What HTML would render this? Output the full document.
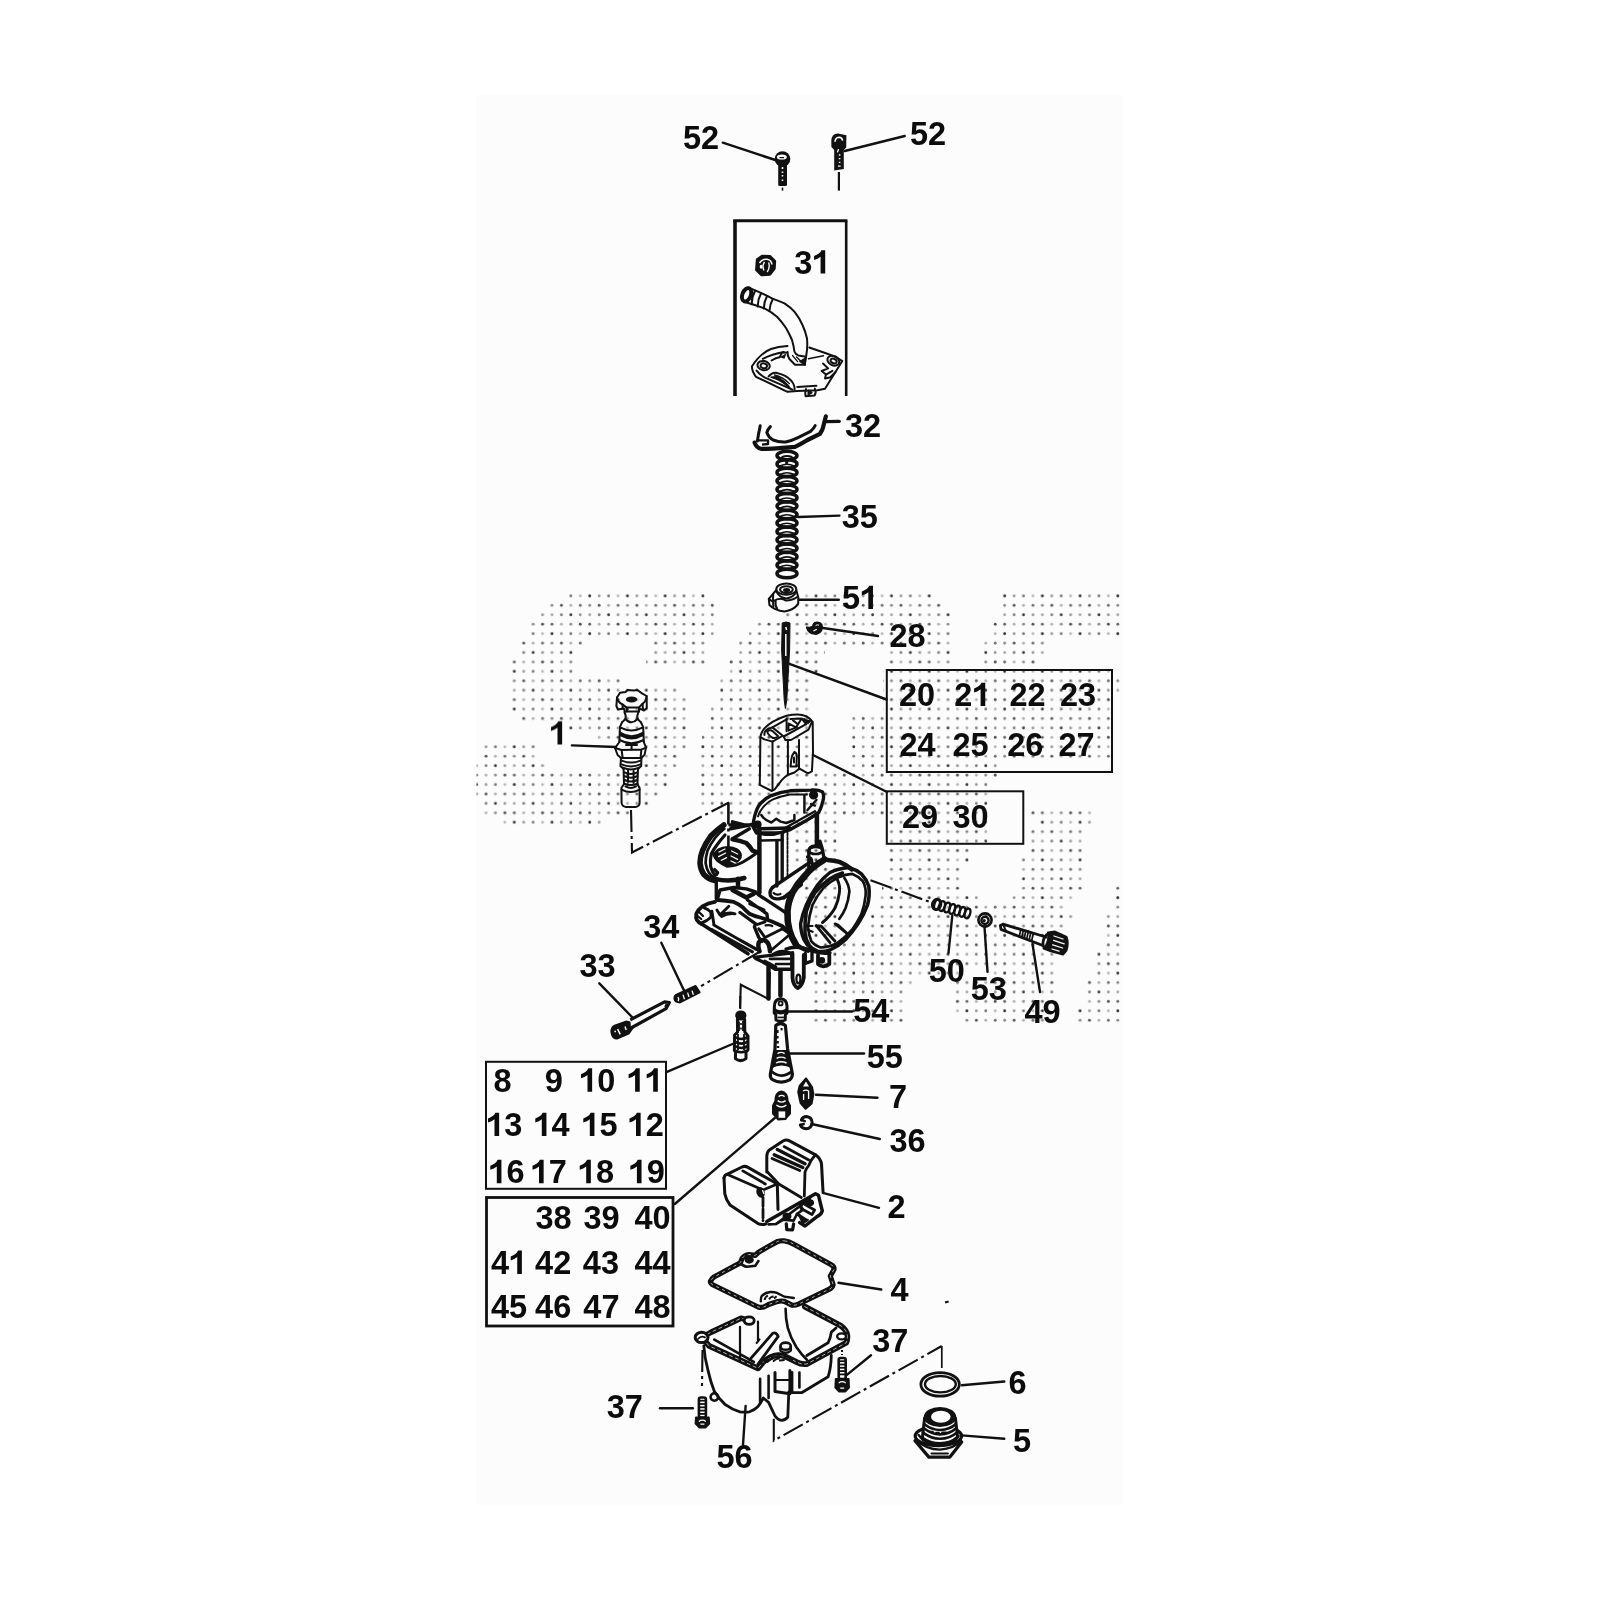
<!DOCTYPE html>
<html><head><meta charset="utf-8"><title>Carburetor exploded view</title>
<style>
html,body{margin:0;padding:0;background:#fff;}
body{width:1600px;height:1600px;overflow:hidden;font-family:"Liberation Sans",sans-serif;}
svg{display:block;position:absolute;left:0;top:0;}
text{font-family:"Liberation Sans",sans-serif;font-weight:bold;font-size:32.5px;fill:#0c0c0c;}
.s{fill:none;stroke:#111;stroke-width:2;stroke-linecap:round;stroke-linejoin:round;}
.t{fill:none;stroke:#111;stroke-width:1.4;stroke-linecap:round;stroke-linejoin:round;}
.h{fill:none;stroke:#111;stroke-width:2.8;stroke-linecap:round;stroke-linejoin:round;}
.w{fill:#fcfcfc;stroke:#111;stroke-width:2;stroke-linecap:round;stroke-linejoin:round;}
.wt{fill:#fcfcfc;stroke:#111;stroke-width:1.4;stroke-linecap:round;stroke-linejoin:round;}
.k{fill:#111;stroke:none;}
.l{fill:none;stroke:#111;stroke-width:2.4;stroke-linecap:round;}
.d{fill:none;stroke:#111;stroke-width:2.1;stroke-dasharray:22 4 3 4;}
</style></head><body>
<svg width="1600" height="1600" viewBox="0 0 1600 1600">
<rect x="476.5" y="95" width="646.5" height="1409.5" fill="#fcfcfc"/>
<!-- 00_dots.svg -->
<defs>
<pattern id="dp" x="698.18" y="591.24" width="37.72" height="37.72" patternUnits="userSpaceOnUse">
<circle cx="4.71" cy="4.71" r="1.45" fill="#303030"/>
<circle cx="14.14" cy="4.71" r="1.45" fill="#9a9a9a"/>
<circle cx="23.57" cy="4.71" r="1.45" fill="#787878"/>
<circle cx="33.00" cy="4.71" r="1.45" fill="#b8b8b8"/>
<circle cx="4.71" cy="14.14" r="1.45" fill="#8c8c8c"/>
<circle cx="14.14" cy="14.14" r="1.45" fill="#585858"/>
<circle cx="23.57" cy="14.14" r="1.45" fill="#b0b0b0"/>
<circle cx="33.00" cy="14.14" r="1.45" fill="#707070"/>
<circle cx="4.71" cy="23.57" r="1.45" fill="#a8a8a8"/>
<circle cx="14.14" cy="23.57" r="1.45" fill="#808080"/>
<circle cx="23.57" cy="23.57" r="1.45" fill="#383838"/>
<circle cx="33.00" cy="23.57" r="1.45" fill="#989898"/>
<circle cx="4.71" cy="33.00" r="1.45" fill="#686868"/>
<circle cx="14.14" cy="33.00" r="1.45" fill="#b4b4b4"/>
<circle cx="23.57" cy="33.00" r="1.45" fill="#909090"/>
<circle cx="33.00" cy="33.00" r="1.45" fill="#505050"/>
</pattern>
<clipPath id="dc">
<rect x="566.0" y="591.2" width="140.0" height="9.43"/>
<rect x="798.0" y="591.2" width="135.0" height="9.43"/>
<rect x="1002.0" y="591.2" width="120.0" height="9.43"/>
<rect x="547.0" y="600.7" width="169.0" height="9.43"/>
<rect x="792.0" y="600.7" width="150.0" height="9.43"/>
<rect x="1002.0" y="600.7" width="120.0" height="9.43"/>
<rect x="538.0" y="610.1" width="178.0" height="9.43"/>
<rect x="783.0" y="610.1" width="169.0" height="9.43"/>
<rect x="1002.0" y="610.1" width="120.0" height="9.43"/>
<rect x="529.0" y="619.5" width="187.0" height="9.43"/>
<rect x="757.0" y="619.5" width="195.0" height="9.43"/>
<rect x="992.0" y="619.5" width="130.0" height="9.43"/>
<rect x="529.0" y="629.0" width="187.0" height="9.43"/>
<rect x="749.0" y="629.0" width="203.0" height="9.43"/>
<rect x="992.0" y="629.0" width="130.0" height="9.43"/>
<rect x="519.0" y="638.4" width="66.0" height="9.43"/>
<rect x="652.0" y="638.4" width="55.0" height="9.43"/>
<rect x="739.0" y="638.4" width="213.0" height="9.43"/>
<rect x="983.0" y="638.4" width="64.0" height="9.43"/>
<rect x="519.0" y="647.8" width="58.0" height="9.43"/>
<rect x="652.0" y="647.8" width="55.0" height="9.43"/>
<rect x="739.0" y="647.8" width="86.0" height="9.43"/>
<rect x="888.0" y="647.8" width="64.0" height="9.43"/>
<rect x="983.0" y="647.8" width="64.0" height="9.43"/>
<rect x="510.0" y="657.2" width="65.0" height="9.43"/>
<rect x="646.0" y="657.2" width="61.0" height="9.43"/>
<rect x="729.0" y="657.2" width="89.0" height="9.43"/>
<rect x="888.0" y="657.2" width="64.0" height="9.43"/>
<rect x="983.0" y="657.2" width="55.0" height="9.43"/>
<rect x="510.0" y="666.7" width="65.0" height="9.43"/>
<rect x="729.0" y="666.7" width="89.0" height="9.43"/>
<rect x="883.0" y="666.7" width="232.0" height="9.43"/>
<rect x="510.0" y="676.1" width="111.0" height="9.43"/>
<rect x="720.0" y="676.1" width="89.0" height="9.43"/>
<rect x="883.0" y="676.1" width="241.0" height="9.43"/>
<rect x="510.0" y="685.5" width="169.0" height="9.43"/>
<rect x="720.0" y="685.5" width="89.0" height="9.43"/>
<rect x="883.0" y="685.5" width="241.0" height="9.43"/>
<rect x="510.0" y="695.0" width="179.0" height="9.43"/>
<rect x="715.0" y="695.0" width="94.0" height="9.43"/>
<rect x="883.0" y="695.0" width="232.0" height="9.43"/>
<rect x="510.0" y="704.4" width="179.0" height="9.43"/>
<rect x="711.0" y="704.4" width="98.0" height="9.43"/>
<rect x="883.0" y="704.4" width="232.0" height="9.43"/>
<rect x="519.0" y="713.8" width="170.0" height="9.43"/>
<rect x="708.0" y="713.8" width="101.0" height="9.43"/>
<rect x="850.0" y="713.8" width="265.0" height="9.43"/>
<rect x="566.0" y="723.3" width="123.0" height="9.43"/>
<rect x="705.0" y="723.3" width="104.0" height="9.43"/>
<rect x="850.0" y="723.3" width="265.0" height="9.43"/>
<rect x="595.0" y="732.7" width="94.0" height="9.43"/>
<rect x="702.0" y="732.7" width="107.0" height="9.43"/>
<rect x="850.0" y="732.7" width="265.0" height="9.43"/>
<rect x="481.0" y="742.1" width="56.0" height="9.43"/>
<rect x="642.0" y="742.1" width="47.0" height="9.43"/>
<rect x="700.0" y="742.1" width="109.0" height="9.43"/>
<rect x="850.0" y="742.1" width="265.0" height="9.43"/>
<rect x="481.0" y="751.5" width="56.0" height="9.43"/>
<rect x="642.0" y="751.5" width="37.0" height="9.43"/>
<rect x="699.0" y="751.5" width="110.0" height="9.43"/>
<rect x="850.0" y="751.5" width="265.0" height="9.43"/>
<rect x="473.0" y="761.0" width="72.0" height="9.43"/>
<rect x="642.0" y="761.0" width="37.0" height="9.43"/>
<rect x="699.0" y="761.0" width="110.0" height="9.43"/>
<rect x="850.0" y="761.0" width="149.0" height="9.43"/>
<rect x="473.0" y="770.4" width="196.0" height="9.43"/>
<rect x="699.0" y="770.4" width="300.0" height="9.43"/>
<rect x="473.0" y="779.8" width="196.0" height="9.43"/>
<rect x="699.0" y="779.8" width="290.0" height="9.43"/>
<rect x="473.0" y="789.3" width="185.0" height="9.43"/>
<rect x="699.0" y="789.3" width="290.0" height="9.43"/>
<rect x="481.0" y="798.7" width="169.0" height="9.43"/>
<rect x="699.0" y="798.7" width="290.0" height="9.43"/>
<rect x="481.0" y="808.1" width="151.0" height="9.43"/>
<rect x="718.0" y="808.1" width="271.0" height="9.43"/>
<rect x="1029.0" y="808.1" width="65.0" height="9.43"/>
<rect x="501.0" y="817.6" width="102.0" height="9.43"/>
<rect x="790.0" y="817.6" width="51.0" height="9.43"/>
<rect x="885.0" y="817.6" width="104.0" height="9.43"/>
<rect x="1037.0" y="817.6" width="56.0" height="9.43"/>
<rect x="790.0" y="827.0" width="51.0" height="9.43"/>
<rect x="885.0" y="827.0" width="104.0" height="9.43"/>
<rect x="1029.0" y="827.0" width="55.0" height="9.43"/>
<rect x="790.0" y="836.4" width="51.0" height="9.43"/>
<rect x="885.0" y="836.4" width="104.0" height="9.43"/>
<rect x="1029.0" y="836.4" width="55.0" height="9.43"/>
<rect x="790.0" y="845.8" width="51.0" height="9.43"/>
<rect x="885.0" y="845.8" width="84.0" height="9.43"/>
<rect x="1029.0" y="845.8" width="55.0" height="9.43"/>
<rect x="793.0" y="855.3" width="48.0" height="9.43"/>
<rect x="885.0" y="855.3" width="84.0" height="9.43"/>
<rect x="1021.0" y="855.3" width="63.0" height="9.43"/>
<rect x="797.0" y="864.7" width="44.0" height="9.43"/>
<rect x="885.0" y="864.7" width="76.0" height="9.43"/>
<rect x="1021.0" y="864.7" width="63.0" height="9.43"/>
<rect x="801.0" y="874.1" width="42.0" height="9.43"/>
<rect x="885.0" y="874.1" width="76.0" height="9.43"/>
<rect x="1021.0" y="874.1" width="63.0" height="9.43"/>
<rect x="803.0" y="883.6" width="40.0" height="9.43"/>
<rect x="882.0" y="883.6" width="79.0" height="9.43"/>
<rect x="1021.0" y="883.6" width="63.0" height="9.43"/>
<rect x="1112.0" y="883.6" width="12.0" height="9.43"/>
<rect x="803.0" y="893.0" width="40.0" height="9.43"/>
<rect x="879.0" y="893.0" width="102.0" height="9.43"/>
<rect x="1012.0" y="893.0" width="63.0" height="9.43"/>
<rect x="1112.0" y="893.0" width="12.0" height="9.43"/>
<rect x="803.0" y="902.4" width="38.0" height="9.43"/>
<rect x="877.0" y="902.4" width="190.0" height="9.43"/>
<rect x="1112.0" y="902.4" width="12.0" height="9.43"/>
<rect x="803.0" y="911.9" width="36.0" height="9.43"/>
<rect x="869.0" y="911.9" width="206.0" height="9.43"/>
<rect x="1105.0" y="911.9" width="19.0" height="9.43"/>
<rect x="803.0" y="921.3" width="36.0" height="9.43"/>
<rect x="867.0" y="921.3" width="200.0" height="9.43"/>
<rect x="1105.0" y="921.3" width="19.0" height="9.43"/>
<rect x="805.0" y="930.7" width="36.0" height="9.43"/>
<rect x="865.0" y="930.7" width="202.0" height="9.43"/>
<rect x="1105.0" y="930.7" width="19.0" height="9.43"/>
<rect x="809.0" y="940.1" width="29.0" height="9.43"/>
<rect x="839.0" y="940.1" width="228.0" height="9.43"/>
<rect x="1105.0" y="940.1" width="19.0" height="9.43"/>
<rect x="833.0" y="949.6" width="225.0" height="9.43"/>
<rect x="1096.0" y="949.6" width="28.0" height="9.43"/>
<rect x="823.0" y="959.0" width="235.0" height="9.43"/>
<rect x="1096.0" y="959.0" width="28.0" height="9.43"/>
<rect x="811.0" y="968.4" width="150.0" height="9.43"/>
<rect x="992.0" y="968.4" width="63.0" height="9.43"/>
<rect x="1096.0" y="968.4" width="28.0" height="9.43"/>
<rect x="811.0" y="977.9" width="101.0" height="9.43"/>
<rect x="955.0" y="977.9" width="100.0" height="9.43"/>
<rect x="1086.0" y="977.9" width="38.0" height="9.43"/>
<rect x="811.0" y="987.3" width="96.0" height="9.43"/>
<rect x="955.0" y="987.3" width="100.0" height="9.43"/>
<rect x="1086.0" y="987.3" width="38.0" height="9.43"/>
<rect x="811.0" y="996.7" width="96.0" height="9.43"/>
<rect x="955.0" y="996.7" width="100.0" height="9.43"/>
<rect x="1086.0" y="996.7" width="38.0" height="9.43"/>
<rect x="811.0" y="1006.2" width="96.0" height="9.43"/>
<rect x="955.0" y="1006.2" width="92.0" height="9.43"/>
<rect x="1076.0" y="1006.2" width="48.0" height="9.43"/>
<rect x="811.0" y="1015.6" width="96.0" height="9.43"/>
<rect x="963.0" y="1015.6" width="84.0" height="9.43"/>
<rect x="1076.0" y="1015.6" width="48.0" height="9.43"/>
</clipPath></defs>
<rect x="476.5" y="585" width="646.5" height="445" fill="url(#dp)" clip-path="url(#dc)"/>
<!-- 01_boxes.svg -->
<g id="boxes">
<path d="M735,396 V220.7" fill="none" stroke="#111" stroke-width="3.6"/><path d="M733.2,220.7 H847.4" fill="none" stroke="#111" stroke-width="3"/><path d="M846.2,220.7 V396" fill="none" stroke="#111" stroke-width="2.6"/>
<rect x="886.8" y="670" width="225.2" height="102" fill="none" stroke="#111" stroke-width="2"/>
<rect x="886.8" y="791.3" width="136.5" height="52.5" fill="none" stroke="#111" stroke-width="2"/>
<rect x="486" y="1061.8" width="180" height="127" fill="none" stroke="#111" stroke-width="2"/>
<rect x="486.5" y="1197.5" width="186.5" height="128.5" fill="none" stroke="#111" stroke-width="2.8"/>
</g>

<!-- 02_leaders.svg -->
<g id="leaders" class="l">
<path d="M722.8,142.7 L775.3,160"/>
<path d="M904.7,136 L844.7,151"/>
<path d="M826,421.3 L838.8,421"/>
<path d="M798,517 L839.4,515.6"/>
<path d="M798.8,599.8 L838.8,599.8"/>
<path d="M823,628 L878,636"/>
<path d="M789.4,663.8 L886.5,699.5"/>
<path d="M813,755 L887,792"/>
<path d="M571.9,745.4 L616,747"/>
<path d="M952.3,915.5 L948.5,953"/>
<path d="M984.5,926.8 L987.5,971.8"/>
<path d="M1032.5,944 L1040,992"/>
<path d="M661.3,942.8 L684.5,991.5"/>
<path d="M599.3,983.3 L632.8,1017.8"/>
<path d="M787.5,1011.5 L852,1011.5"/>
<path d="M787.5,1053.5 L864,1053.5"/>
<path d="M816,1094.8 L877.5,1097.8"/>
<path d="M811.5,1124 L879.8,1139"/>
<path d="M822.8,1192.8 L879,1207.8"/>
<path d="M838.5,1282.8 L881.3,1289.5"/>
<path d="M871,1355.3 L846.9,1374.9"/>
<path d="M660,1408.2 L692.8,1408.2"/>
<path d="M961.7,1385.2 L1004.3,1381.5"/>
<path d="M961.7,1435.4 L1004.3,1438.8"/>
<path d="M745.6,1406 L743,1445"/>
<path d="M732.5,1044 L667,1071.8"/>
<path d="M774.8,1118 L674.8,1204"/>
</g>

<!-- 10_screws52.svg -->
<g id="screws52">
<!-- left screw -->
<circle cx="782.5" cy="159" r="7.8" class="k"/>
<ellipse cx="781.8" cy="157" rx="5" ry="2.6" fill="#fcfcfc"/>
<path d="M779.5,157.6 h4.6" stroke="#111" stroke-width="1.2"/>
<rect x="778.2" y="163" width="8.8" height="23" rx="1.5" class="k"/>
<path d="M782.5,167 v2 M782.5,171.5 v1.6 M782.5,175 v1.6 M782.5,179.5 v1.6" stroke="#fcfcfc" stroke-width="1.6" fill="none"/>
<path d="M782.5,187.6 v3" stroke="#111" stroke-width="1.6"/>
<!-- right screw -->
<path d="M831.3,141 Q831.3,133.6 838,133.4 L846.4,135.2 L846.2,147.6 L843.8,150 L843.8,169 L834.2,170.4 L834.2,150 L831.4,147 Z" class="k"/>
<path d="M835,141.8 Q835.4,137.4 839,137.2 Q842.4,137.4 842.6,140.6" fill="none" stroke="#fcfcfc" stroke-width="1.6"/>
<path d="M838.6,149 l-1.2,3.4 M838.8,155 h1.6 M838.8,158.6 h1.6 M838.8,162.4 h1.6 M838,166.2 h2.6" stroke="#fcfcfc" stroke-width="1.3" fill="none"/>
<path d="M838.9,172 V190.6" stroke="#111" stroke-width="2.2"/>
</g>

<!-- 11_tube31.svg -->
<g id="tube31">
<!-- nut -->
<path d="M757,259.5 L762,256 L770,256.2 L775,261 L774.6,268.5 L770,274.5 L761.5,275.2 L756.2,270 Z" fill="#111" stroke="#111" stroke-width="2.30" stroke-linejoin="round"/>
<path d="M759.5,263 Q762,258.8 767,259.2 Q771.5,260 772,264.5" fill="none" stroke="#fcfcfc" stroke-width="1.49"/>
<path d="M764.5,262 Q761.8,266 764,270.5 M768.5,262.5 Q770.5,267 767.2,272" fill="none" stroke="#fcfcfc" stroke-width="1.38"/>
<ellipse cx="761.2" cy="266.8" rx="1.5" ry="2" fill="#fcfcfc"/>
<!-- tube -->
<path d="M748.5,287.6 Q761,292.5 772.5,298.6 Q779,301 784.5,303.3 Q791,307.5 795,312.3 Q799.5,318 802.5,325 Q805.5,331.5 807,338.5 Q807.8,347 806.3,355 L804.8,364.6" class="s" stroke-width="2.76"/>
<path d="M744,301.8 Q755,305 765,308.6 Q771.5,312 777,316.8 Q782,322 786,328 Q789.5,334 792,340 Q793.8,346 794.4,351.5 Q795.5,354.5 798.5,355.4 L804.5,356.6" class="s" stroke-width="2.76"/>
<ellipse cx="746.6" cy="294.8" rx="4.2" ry="7" transform="rotate(22 746.6 294.8)" fill="#fcfcfc" stroke="#111" stroke-width="3.91"/>
<path d="M755.2,290.8 Q751.6,297 751.8,304.2 M761,293.4 Q757.6,299.5 757.8,306.4 M767,296.2 Q763.8,302 763.8,308.4 M772.8,299 Q769.8,304.5 769.4,311" class="s" stroke-width="2.64"/>
<!-- socket -->
<path d="M787.6,352 Q787.4,356 789.2,358.8 L795,364.8 L804.8,364.8" class="s" stroke-width="2.76"/>
<path d="M792.6,355.6 L797.6,361.6 M796.6,357 L800.6,361" class="t" stroke-width="1.61"/>
<path d="M799.5,361 L804.8,364.6 L805.8,357" fill="#111" stroke="#111" stroke-width="1.72"/>
<!-- plate -->
<path d="M787.5,346 Q778,346.6 771,349 Q760.5,353 752,366.3 Q751.6,371 756,376.8 L787.5,391.8 L797.3,391 L817.5,390.3 L825,388.8 L842.3,361 Q836,356.4 828.8,354.3 L809.3,347.5" class="s" stroke-width="2.64"/>
<path d="M756.6,370.6 Q760,375 765,377.6 L792.4,389.6" class="s" stroke-width="2.30"/>
<path d="M762.8,358.8 Q772,354 783.8,352" class="s" stroke-width="2.30"/>
<path d="M771.5,360.5 Q776,357.5 779.6,357.2 L782,352.8 L786.6,352.4" class="s" stroke-width="2.30"/>
<path d="M779.6,357.2 L784.5,358.8 L786.5,353.2 Z" class="k"/>
<ellipse cx="763.6" cy="365.6" rx="6.2" ry="4.6" transform="rotate(12 763.6 365.6)" class="s" stroke-width="2.30"/>
<ellipse cx="763.8" cy="365.8" rx="3.2" ry="2.4" transform="rotate(12 763.8 365.8)" class="s" stroke-width="2.30"/>
<ellipse cx="833.3" cy="360.7" rx="6.2" ry="4.6" transform="rotate(25 833.3 360.7)" class="s" stroke-width="2.30"/>
<ellipse cx="833.6" cy="361" rx="3.2" ry="2.2" transform="rotate(25 833.6 361)" class="s" stroke-width="2.30"/>
<path d="M808.5,358.8 L823.5,355.8" class="t" stroke-width="1.61"/>
<!-- wedge detail -->
<path d="M768.6,376.4 Q772,372.4 776,372.8 Q786.5,375 791.5,381 Q795,385.6 794.6,389.4" class="s" stroke-width="2.30"/>
<path d="M770.6,377.2 Q780,380 786,385 L790.6,389 Q786,381 776.8,376.6 Z" fill="#111" stroke="#111" stroke-width="1.38"/>
<path d="M774.6,375 Q784,377.6 789.4,383.6" class="t" stroke-width="1.61"/>
<!-- zigzag right -->
<path d="M823,363.6 L828.2,368.4 L821.6,371 L826,374.6 L832.4,370.8 M826,374.6 L825,378.6 L829.8,377.6 L835.6,372" class="s" stroke-width="2.30"/>
<!-- bottom boss -->
<path d="M797.3,387 L816.4,385.8" class="s" stroke-width="2.30"/>
<path d="M806,389 Q804.6,393.5 805.6,396.2 L814.6,395.6 Q816.6,392 814.8,388.6" class="s" stroke-width="2.76"/>
<path d="M808.6,390.6 L808.4,394.4 L811.6,392.6 Z" class="s" stroke-width="1.49"/>
</g>

<!-- 12_spring.svg -->
<g id="spring35">
<path d="M754.6,442.6 Q756.5,448 761,448.8 Q770,449.2 779.4,448.2 L795,446.8 Q801,444 807.5,440 L820,433.8 Q822.6,430 823.2,426.8 L825.8,416.4" fill="none" stroke="#111" stroke-width="4.2" stroke-linecap="round" stroke-linejoin="round"/>
<path d="M757.4,441 Q758.6,433 760.2,425.8" fill="none" stroke="#111" stroke-width="3" stroke-linecap="round"/>
<path d="M770.4,426.6 Q767.4,429.6 766.8,432.6 Q768.6,437.6 773,440 Q779,442.4 785.6,442 Q792,440.6 798,437.6 L810.6,431.4 Q813.6,428.6 815.2,425.6" fill="none" stroke="#111" stroke-width="3" stroke-linecap="round" stroke-linejoin="round"/>
<path d="M759,440.4 H768 V444 L762,444.6" fill="none" stroke="#111" stroke-width="2.4" stroke-linejoin="round"/>
<path d="M825.6,421.8 L839.4,421.4" stroke="#111" stroke-width="3" stroke-linecap="round"/>
<ellipse cx="787.0" cy="455.60" rx="10.0" ry="4.3" fill="none" stroke="#111" stroke-width="3.5"/>
<ellipse cx="787.0" cy="464.02" rx="10.0" ry="4.3" fill="none" stroke="#111" stroke-width="3.5"/>
<ellipse cx="787.0" cy="472.44" rx="10.0" ry="4.3" fill="none" stroke="#111" stroke-width="3.5"/>
<ellipse cx="787.0" cy="480.86" rx="10.0" ry="4.3" fill="none" stroke="#111" stroke-width="3.5"/>
<ellipse cx="787.0" cy="489.28" rx="10.0" ry="4.3" fill="none" stroke="#111" stroke-width="3.5"/>
<ellipse cx="787.0" cy="497.70" rx="10.0" ry="4.3" fill="none" stroke="#111" stroke-width="3.5"/>
<ellipse cx="787.0" cy="506.12" rx="10.0" ry="4.3" fill="none" stroke="#111" stroke-width="3.5"/>
<ellipse cx="787.0" cy="514.54" rx="10.0" ry="4.3" fill="none" stroke="#111" stroke-width="3.5"/>
<ellipse cx="787.0" cy="522.96" rx="10.0" ry="4.3" fill="none" stroke="#111" stroke-width="3.5"/>
<ellipse cx="787.0" cy="531.38" rx="10.0" ry="4.3" fill="none" stroke="#111" stroke-width="3.5"/>
<ellipse cx="787.0" cy="539.80" rx="10.0" ry="4.3" fill="none" stroke="#111" stroke-width="3.5"/>
<ellipse cx="787.0" cy="548.22" rx="10.0" ry="4.3" fill="none" stroke="#111" stroke-width="3.5"/>
<ellipse cx="787.0" cy="556.64" rx="10.0" ry="4.3" fill="none" stroke="#111" stroke-width="3.5"/>
<ellipse cx="787.0" cy="565.06" rx="10.0" ry="4.3" fill="none" stroke="#111" stroke-width="3.5"/>
<ellipse cx="787.0" cy="573.48" rx="10.0" ry="4.3" fill="none" stroke="#111" stroke-width="3.5"/>
<ellipse cx="787.0" cy="457.8" rx="5" ry="1.8" fill="none" stroke="#111" stroke-width="2"/>
<circle cx="786.6" cy="462.6" r="1.6" fill="#111"/>
<path d="M780,466.0 q7,-3.4 14,0" fill="none" stroke="#111" stroke-width="1.6"/>
<path d="M780,474.4 q7,-3.4 14,0" fill="none" stroke="#111" stroke-width="1.6"/>
<path d="M780,482.8 q7,-3.4 14,0" fill="none" stroke="#111" stroke-width="1.6"/>
<path d="M780,491.3 q7,-3.4 14,0" fill="none" stroke="#111" stroke-width="1.6"/>
<path d="M780,499.7 q7,-3.4 14,0" fill="none" stroke="#111" stroke-width="1.6"/>
<path d="M780,508.1 q7,-3.4 14,0" fill="none" stroke="#111" stroke-width="1.6"/>
<path d="M780,516.5 q7,-3.4 14,0" fill="none" stroke="#111" stroke-width="1.6"/>
<path d="M780,524.9 q7,-3.4 14,0" fill="none" stroke="#111" stroke-width="1.6"/>
<path d="M780,533.4 q7,-3.4 14,0" fill="none" stroke="#111" stroke-width="1.6"/>
<path d="M780,541.8 q7,-3.4 14,0" fill="none" stroke="#111" stroke-width="1.6"/>
<path d="M780,550.2 q7,-3.4 14,0" fill="none" stroke="#111" stroke-width="1.6"/>
<path d="M780,558.6 q7,-3.4 14,0" fill="none" stroke="#111" stroke-width="1.6"/>
<path d="M780,567.0 q7,-3.4 14,0" fill="none" stroke="#111" stroke-width="1.6"/>
</g>
<g id="cap51">
<ellipse cx="786.3" cy="589.2" rx="10" ry="5.6" class="s" stroke-width="3.4"/>
<ellipse cx="786.4" cy="589.6" rx="6.4" ry="3.4" class="s" stroke-width="3"/>
<ellipse cx="786.6" cy="590" rx="2.6" ry="1.1" class="s" stroke-width="1.6"/>
<path d="M776.3,590 L768.8,598.8 L769.4,605 Q775,610.8 784.4,611.4 Q793.6,610.2 798.2,603.8 L798.4,598 L796.3,590" class="s" stroke-width="3.4"/>
<path d="M769,598.8 Q771,601 773.2,601.4 M773.2,595 Q772.6,600 773.4,606.6 M773.2,601.4 Q780,596.6 786,600.6 Q792.6,600.4 797.6,596.8" class="s" stroke-width="3"/>
<path d="M776.6,592 Q780,597.8 786.2,598.4 Q793,597.8 796,592.2" class="s" stroke-width="3"/>
<path d="M775.6,601 Q775,606 777.2,608.6" class="s" stroke-width="2"/>
</g>
<g id="needle">
<path d="M782.2,623 L781.6,650 L784.2,700 L785.4,708.6 L786.8,700 L789.6,650 L790,623 Q786,621 782.2,623 Z" fill="#111" stroke="#111" stroke-width="1"/>
<path d="M785.8,627 l0.8,3 M785.8,634 v22" stroke="#fcfcfc" stroke-width="1.5" fill="none"/>
</g>
<g id="clip28">
<path d="M806.6,627.2 Q808.4,633.6 815,634 Q821.4,633.6 822.4,627.4 L821.6,624.4 Q819.6,622.2 816.6,622.4 Q813,622.8 812.8,626.6 L809.6,627.6 Z" fill="#111" stroke="#111" stroke-width="1.6" stroke-linejoin="round"/>
<path d="M813.4,631 l3.4,-1.8" stroke="#fcfcfc" stroke-width="1.3"/>
<path d="M815.6,625.6 q1.6,-1.4 3.4,-0.4" stroke="#fcfcfc" stroke-width="1" fill="none"/>
</g>
<!-- 13_part1.svg -->
<g id="part1">
<!-- knob -->
<path d="M617,697.5 L620,692.8 L625.5,692 L627.5,690 L634,690.6 L637,689.8 L642,693.4 L646.6,696 L646.8,708 L644,710.6 L640,708.6 L638.6,711.6 L625,711.6 L623.8,708.4 L618,709.6 L616.4,706 Z" class="s" stroke-width="2.76"/>
<path d="M617,697.5 Q617.6,702 622.4,704.4 L626.6,707.6 L639,707.4 L642.6,703.8 Q646.4,701 646.6,696" class="s" stroke-width="2.33"/>
<path d="M622.4,704.4 L622.8,709 M626.6,707.6 L627,711.4 M639,707.4 L639,711.4 M642.6,703.8 L643,709.8" class="s" stroke-width="2.12"/>
<ellipse cx="631.6" cy="699.4" rx="5.6" ry="3" class="k"/>
<!-- neck -->
<path d="M624.4,712 Q626.4,716 625.4,719 L622,722.4 M638.4,712 Q636.6,716 637.6,719 L641,722.4" class="s" stroke-width="2.54"/>
<path d="M625.4,719 Q631,725.6 637.6,719" class="s" stroke-width="2.33"/>
<!-- body -->
<path d="M622,722.4 Q619.6,726 619.8,731 L619.4,742 M641,722.4 Q643.4,726 643.4,731 L643.8,742" class="s" stroke-width="2.76"/>
<path d="M620,727.4 Q631.4,733.4 643.2,727.4" class="s" stroke-width="2.33"/>
<path d="M620.6,732.6 Q631.6,739.4 642.6,732.6 L642.6,735.6 Q631.6,741.6 620.6,735.6 Z" fill="#111" stroke="#111" stroke-width="1.70"/>
<path d="M619.6,740 Q631.6,746.6 643.6,740" class="s" stroke-width="2.33"/>
<!-- hex nut -->
<path d="M619.4,742 L615,748 L617.6,755 L621,758 L641.4,758 L644.6,754.6 L646,747.6 L643.8,742" class="s" stroke-width="2.97"/>
<path d="M615,748 L621.6,750 L641.4,749.6 L646,747.6 M621.6,750 L622.6,757.6 M641.4,749.6 L640.6,757.6" class="s" stroke-width="2.33"/>
<path d="M626,745 h11 M631.6,745 v4.6" class="s" stroke-width="1.91"/>
<!-- threads below nut -->
<path d="M621,758 L620.4,766 L623.6,769 M641.4,758 L641.2,766 L638,769" class="s" stroke-width="2.76"/>
<path d="M621.6,760.6 Q631,764.6 640.6,760.6 M621.6,764.4 Q631,768.4 640.6,764.4 M623,767.6 Q631,771.4 639,767.6" class="s" stroke-width="2.12"/>
<!-- spring part -->
<path d="M623.6,769 L624,784 M638,769 L637.4,784" class="s" stroke-width="2.97"/>
<path d="M624.4,772.4 Q631,775.6 637.4,772.4 M624.4,776.2 Q631,779.4 637.4,776.2 M624.4,780 Q631,783.2 637.4,780 M624.4,783.6 Q631,786.6 637.4,783.6" class="s" stroke-width="2.12"/>
<path d="M628,770 v12 M633.6,771 v12" class="s" stroke-width="1.48"/>
<!-- bottom -->
<path d="M624,784 L621.4,788 L621.6,803 Q622,806.4 626,807 L635.6,807 Q639.4,806.4 639.6,803 L639.6,788 L637.4,784" class="s" stroke-width="2.97"/>
<path d="M621.6,789.6 Q630.6,794.4 639.6,789.6" class="s" stroke-width="2.33"/>
<path d="M625.4,786.4 Q631,789.6 636,786.4" class="s" stroke-width="2.12"/>
</g>
<g id="dashlines" class="d">
<path d="M631,810 L632,852.5 L729,802.5"/>
<path d="M728.4,802.5 L728.4,864" stroke-width="2.6"/>
<path d="M870.5,880.2 L932,902.8"/>
<path d="M761,951 L701,986.2"/>
<path d="M740,1008 L740.8,984.8 L768.5,999 L770,972" stroke-dasharray="none" stroke-linejoin="miter"/>
<path d="M779.8,972 V996" stroke-dasharray="none"/>
<path d="M773.8,1418.8 V1440.6 L941.8,1346"/>
<path d="M941.8,1346 V1368" stroke-dasharray="none" stroke-width="1.70"/>
<path d="M702.5,1350 L702,1386"/>
<path d="M842,1350 v5" stroke-dasharray="2 2"/>
<path d="M945,1302.4 l3.6,-1" stroke-dasharray="none"/>
</g>

<!-- 14_slide.svg -->
<g id="slide">
<path d="M760.4,736.5 L759.8,784.9 L771.9,791 L774.7,789.4 L781.5,780.4 Q784.6,777 788.2,774.7 L794.4,772.5 L799.5,768.6 L807.9,773.3 L811.9,771.4 L813,751.7 L812.7,721.9 Q810,718.4 806.2,716.2 Q802,714.6 797.8,714.6 Q792,714.6 786.6,715.7 Q779,718 772.5,721.9 Q767.6,725 764.1,728.6 Q761.4,732 760.4,736.5 Z" class="s" stroke-width="2.9"/>
<path d="M772.5,741.4 V789.4" class="s" stroke-width="3"/>
<path d="M787.9,739.9 V774.6" class="s" stroke-width="3.6"/>
<path d="M799,739.9 V768.4" class="s" stroke-width="2.6"/>
<path d="M761,737.4 L764.4,739.4 L772.5,741.6 L781.5,736.5" class="s" stroke-width="2.6"/>
<path d="M764.4,735 Q764,731 768,729 L772.4,727.4 L783.7,736.5 L806.2,724.1" class="s" stroke-width="2.6"/>
<path d="M783.7,736.5 L785.4,740 L791,740 L808.5,729.7 L811.6,722.6" class="s" stroke-width="2.6"/>
<path d="M767.2,731.4 Q770,729 773,731.4 L778,736 Q776,738.6 773,738 Q768,735.4 767.2,731.4 Z" class="s" stroke-width="2.2"/>
<path d="M772.4,727.4 L786.6,719.4" class="s" stroke-width="2.4"/>
<path d="M786.6,718.6 V731.2" class="s" stroke-width="3"/>
<path d="M788.4,723.4 L796,727.4 L788.4,730.6 Z" class="s" stroke-width="2.2"/>
<path d="M790.5,719 L801.7,718.5 L796,727.4 M793,720.4 L797.6,724 M801.7,718.5 L806.2,724.1" class="s" stroke-width="2.4"/>
<path d="M803.4,718.4 Q806,722 808,723 L810.6,720.6" fill="#111" stroke="#111" stroke-width="2"/>
<path d="M794.4,752 Q791.6,755 791.2,760 L790.6,766.6 L796.4,766.4 L796.8,757 Q797,753 794.4,752 Z" class="s" stroke-width="2.6"/>
<path d="M794,757.4 v5" class="s" stroke-width="2.4"/>
</g>

<!-- 20_body.svg -->
<g id="body" class="s" stroke-width="2.91">
<!-- top flange -->
<path d="M753.8,820 Q755.6,811 758.8,805.6 Q764,799 771.3,795.6 Q780,792 790,790.8 L811.3,790 Q818,789.4 822.5,791.9 Q824.4,796 823,800.6 Q821.6,807 818.8,812.5 L805,821.3 L789.4,830 L775,834 Q764,835.4 756.6,832 Q752.6,827 753.8,820 Z" stroke-width="3.36"/>
<path d="M758,816.3 Q760,810.6 763.8,806.3 Q768,801.6 773,799.4 Q781,796.2 790,794.6 L806.9,794.4"/>
<path d="M761.3,815 Q764.6,820.4 771.3,822.5 L776.3,818.8 L780.6,821.6 L786.3,823 L794.4,820 M794.4,815 v4.6" stroke-width="2.46"/>
<path d="M804.4,795.6 V812.5" stroke-width="2.46"/>
<circle cx="813.6" cy="795" r="3.6" fill="#111"/>
<path d="M816.4,800 L807.5,810 M811,804 l4,1.6 M815,811.3 L783.8,828.8 M817.5,814.4 L786.3,831.3" stroke-width="2.46"/>
<circle cx="757.6" cy="824.4" r="3" fill="#111"/>
<!-- collar + tower -->
<path d="M758.8,828.8 L790,828" stroke-width="3.36"/>
<path d="M760.6,832.5 H783.8 M761.3,840.6 L782.5,840" stroke-width="2.46"/>
<path d="M759.4,828.8 V892.5" stroke-width="4.48"/>
<path d="M776.9,841 V886 M782.2,833 V880" stroke-width="3.36"/>
<path d="M787.5,832.5 V875.6" stroke-width="1.79" stroke-dasharray="3 1.5"/>
<path d="M816.9,814.4 V845" stroke-width="4.48"/>
<!-- pilot boss -->
<path d="M808.8,851 Q809,846.4 815.6,846 Q820,846.4 820,841.3 Q822.6,848 823.8,856.9 L827.5,860" stroke-width="3.36"/>
<ellipse cx="815.6" cy="850.4" rx="6.8" ry="3.6" stroke-width="2.69"/>
<path d="M808.8,851 V869.4 M807.5,856.9 Q812,858 811.6,861.6 Q811.6,864 814.4,865" stroke-width="3.36"/>
<path d="M807.5,863.8 L772.5,887.5" stroke-width="3.36"/>
<path d="M801,884.6 L784,897.5" stroke-width="4"/>
<path d="M772.5,887.5 Q769,891 770.4,895.6 Q773,899.6 778.8,898.8 L784,897.5" stroke-width="3.36"/>
<path d="M773.6,893 Q776.6,895.6 780.4,894" stroke-width="2.24"/>
<!-- venturi ring -->
<path d="M823.8,860 Q812,867 805,875.6 Q797,884 792.5,892.5 Q788,902 787.5,911.3 Q787,921 789.4,930 Q791.6,938 795.6,943.8" stroke-width="6.6"/>
<path d="M827.5,860 Q834,860.4 839.4,861.9 Q846,864.6 851.9,869.4" stroke-width="4.48"/>
<path d="M848.8,867.5 Q838,868.6 830,872.5 Q822.6,878 817.5,885 Q810.6,894.6 806.3,905 Q802,915 800.6,923.8 Q800.6,932 803.8,939.4 Q806.6,945 811.3,948.8" stroke-width="3.36"/>
<path d="M848.8,867.5 Q856,869.6 861.3,873.8 Q866.6,879.6 868.8,886.3 Q870,896 867.5,905 Q864,915 858,923.8 Q852.6,932 845.6,939.4 Q838.6,946 830,950 Q823.6,952.4 817.5,951.3 Q812.4,949.4 809.4,945.6 Q805.6,940 805,933 Q804.6,922 806.3,911.3 Q809.4,901 815,892.5 Q821.6,884.6 830,878.8 Q836,875 842.5,873" stroke-width="3.58"/>
<path d="M851.9,873.8 Q858.6,876.4 863,881.3 Q866.4,888 865.6,895.6 Q864.6,905.6 861.3,914.4 Q857,923 851.9,930 Q845,938 836.3,943.8 Q828.6,947.4 820.6,947.5 Q814.6,945.6 811.3,941.3 Q808.6,934.6 808,926.9 Q809,915.6 812.5,905 Q817,895.6 823.8,887.5 Q831,881 839.4,876.9 Q845.6,874.4 851.9,873.8" stroke-width="2.69"/>
<path d="M837.5,880 Q840.4,886 839.4,892.5 Q838.4,901 835,908 Q830,916.6 822.5,922.5" stroke-width="2.91"/>
<path d="M844.4,878 Q848.6,884 849.4,891.3 Q848.6,900 845.6,908 Q843,914 839.4,918.8" stroke-width="2.69"/>
<path d="M816.3,925.6 L821.3,926.3 L835,941.3 M816.3,925.6 L830,942.6" stroke-width="2.91"/>
<path d="M835,923.8 L848.8,935 L838,925 Z" fill="#111" stroke-width="2.69"/>
<path d="M807.5,926 h5 M808,930 l4.6,1.8" stroke-width="2.24"/>
<!-- choke ring (left) -->
<path d="M723.8,825 Q716.6,830 710.6,836.3 Q705.6,843 702.5,850.6 Q700,857 700,863 Q700.6,870 703.8,874.4 Q708,879 715,880.6" stroke-width="5.60"/>
<path d="M724.4,828.8 Q719,833 715,838 Q710.6,844 707.5,850.6 Q705.6,857 705.6,863 Q706.4,868.6 708.8,872.5 Q711,875.6 713.8,877.5" stroke-width="2.69"/>
<path d="M725,835 Q720.6,840 716.9,845 Q713.4,849.6 711.3,853.8 Q710,860 710.6,866.3 Q712,871.6 715,875.6" stroke-width="3.14"/>
<path d="M730,825 L749.4,825 M732.5,821.9 L746.3,825.6 M730.6,828.8 L752,824.4" stroke-width="3.58"/>
<path d="M732.5,838.8 L749.4,828.8" stroke-width="3.36"/>
<path d="M732.5,839.4 Q740,840.6 746.3,843 Q750,846.4 752.5,850.6 L758,852.5" stroke-width="4.48"/>
<path d="M752,824.6 L756.4,833" stroke-width="3.36"/>
<ellipse cx="727.8" cy="855.6" rx="13" ry="8.6" fill="#111" stroke-width="2.24"/>
<path d="M719,852 l6,-3 M718.6,856.6 l7,-3.6 M720,861 l6.6,-3.4 M731.6,851 l6,3 M731,856 l6.6,3.4 M731,861 l5,2.4" stroke="#fcfcfc" stroke-width="1.23"/>
<path d="M713,852.5 Q716,861.6 727.5,866.3 Q736,866 743,862 Q750,858 755.6,853.8" stroke-width="3.14"/>
<path d="M714.6,869.6 L717.6,872.6 L716.4,874.6" stroke-width="3.36"/>
<path d="M715,878.8 Q729,882.6 744.4,878" stroke-width="4.48"/>
<path d="M716.3,878.8 V898.8" stroke-width="3.36"/>
<path d="M738,878.8 V887" stroke-width="4.48"/>
</g>

<!-- 21_body2.svg -->
<g id="body2" class="s" stroke-width="2.91">
<!-- upper bar shapes -->
<path d="M717.5,898.8 L720,890 L733.8,887.5 L746.3,888.8 L755.6,891.9 L758.8,895 L783.8,911.3" stroke-width="3.36"/>
<path d="M732.5,890 L746.3,897.5 L753.8,893.8" stroke-width="4.48"/>
<path d="M747.5,900 L766.9,913.8 L767.5,918.8 M750,903.8 L763.8,910" stroke-width="3.36"/>
<path d="M717.5,900 Q726,900.4 733.8,901.9 Q739,904 743,907.5 Q746,911 749.4,913.8 Q755,916.6 761.9,918 L771.3,921.3 L782.5,926.3" stroke-width="3.81"/>
<!-- left lug -->
<path d="M715,901.9 Q708,903 702.5,906.3 Q698,909.6 696.3,913.8 Q695.6,917.6 696.9,920 Q698.6,922.6 701.3,923.8" stroke-width="3.81"/>
<path d="M704.4,908 Q708,909 710.6,911.9 Q711.6,915 710.6,917.5 Q707,921 702.5,922.5" stroke-width="2.91"/>
<path d="M699,912 l4,4 M697.6,916 l3.6,3" stroke-width="2.24"/>
<path d="M711.9,911.3 L713.8,923.8" stroke-width="2.91"/>
<!-- long bottom edges -->
<path d="M701.3,923.8 L748,953.8" stroke-width="3.58"/>
<path d="M711.3,929.4 L752.5,951.9 M713.8,925 L756.3,949.4" stroke-width="2.91"/>
<!-- interior -->
<path d="M716.9,910 L720,915 L728.8,906.3 M720.6,915.6 Q727,911.6 735,913.8 Q727,913 721.6,916.4" stroke-width="2.91"/>
<path d="M740,912.5 L755.6,923.8 L754.4,926.9 L758.8,937.5 L761.9,941.3" stroke-width="3.36"/>
<path d="M757.5,924.4 L765,921.9 M758.8,928.8 L765,937.5 L782.5,928.8" stroke-width="2.91"/>
<path d="M765.6,925.4 q4,-1 6.6,0.6" stroke-width="2.24"/>
<!-- ring clamp -->
<path d="M759.5,951.3 Q757.6,946 758.8,942.4 Q761,939.4 764,940 Q767.6,941.6 768.6,944.6 Q770,948 770,951.3" stroke-width="4.48"/>
<path d="M740,940 L756.5,949" stroke-width="2.69"/>
<!-- bottom flange -->
<path d="M754.3,957.3 L792.5,952.8 M755.6,958.4 L762.5,961.8 L775.3,969.3 L791.8,969.3 L791.8,954.3" stroke-width="3.36"/>
<path d="M770,958.8 L789.5,958.8 M764.8,961 L776,967 M776,964 L791.8,964" stroke-width="2.69"/>
<path d="M772.3,955 Q781.3,948.6 791,953.5" stroke-width="3.36"/>
<path d="M768.5,967 V998.5 M780.5,971.5 V995.5" stroke-width="4.48"/>
<!-- nozzle -->
<path d="M792.5,953.5 L792.5,977.5 Q793,985.6 797.8,988 Q802.6,985.6 803.8,977.5 L803.8,955" stroke-width="3.81"/>
<ellipse cx="798.4" cy="979" rx="2" ry="4.4" stroke-width="2.24"/>
<path d="M805.3,953.5 L805.3,963.3 L812,961 L812,952" stroke-width="3.36"/>
<path d="M818,955 L818,964 Q820,966.4 823.3,966.3 Q827,966 829.3,964 L829.3,955" stroke-width="3.81"/>
<circle cx="821.8" cy="960.3" r="2.4" fill="#111"/>
<path d="M786,949 Q798,944.6 812,951 Q820,954 830,953" stroke-width="3.36"/>
<path d="M795.6,943.8 Q800,948 808,950.6" stroke-width="4.48"/>
<!-- between tower and ring lower -->
<path d="M783.8,911.3 L787,915 M782.5,926.3 L788.4,930 M782.5,928.8 L790,934" stroke-width="2.91"/>
<path d="M770,951.3 L788,936" stroke-width="2.69"/>
</g>

<!-- 30_right.svg -->
<g id="p50_53_49" class="s" stroke-width="2.4">
<ellipse cx="937.0" cy="904.6" rx="2.6" ry="5" transform="rotate(16.1 937.0 904.6)" stroke-width="2.3"/>
<ellipse cx="942.1" cy="906.1" rx="2.6" ry="5" transform="rotate(16.1 942.1 906.1)" stroke-width="2.3"/>
<ellipse cx="947.2" cy="907.5" rx="2.6" ry="5" transform="rotate(16.1 947.2 907.5)" stroke-width="2.3"/>
<ellipse cx="952.2" cy="909.0" rx="2.6" ry="5" transform="rotate(16.1 952.2 909.0)" stroke-width="2.3"/>
<ellipse cx="957.3" cy="910.5" rx="2.6" ry="5" transform="rotate(16.1 957.3 910.5)" stroke-width="2.3"/>
<ellipse cx="962.4" cy="911.9" rx="2.6" ry="5" transform="rotate(16.1 962.4 911.9)" stroke-width="2.3"/>
<ellipse cx="967.5" cy="913.4" rx="2.6" ry="5" transform="rotate(16.1 967.5 913.4)" stroke-width="2.3"/>
<ellipse cx="936.6" cy="904.4" rx="4.2" ry="5.2" transform="rotate(16.1 936.6 904.4)" stroke-width="2.8"/>
<circle cx="985" cy="920" r="6.6" stroke-width="2.6"/>
<circle cx="985" cy="920.4" r="3.6" stroke-width="2.4"/>
<circle cx="984.2" cy="920.6" r="1.6" fill="#111" stroke="none"/>
<path d="M1000.4,925.6 L1003,924.2 L1046,937 M1000.4,925.6 L1001,929.4 L1042.2,945.3" stroke-width="2.8"/>
<path d="M1003.4,925.6 L1006,930.6" stroke-width="1.8"/>
<path d="M1020.9,929.0 l-1.6,7.4" stroke-width="1.7"/>
<path d="M1023.4,929.8 l-1.6,7.4" stroke-width="1.7"/>
<path d="M1025.9,930.5 l-1.6,7.4" stroke-width="1.7"/>
<path d="M1028.4,931.2 l-1.6,7.4" stroke-width="1.7"/>
<path d="M1030.9,932.0 l-1.6,7.4" stroke-width="1.7"/>
<path d="M1033.4,932.8 l-1.6,7.4" stroke-width="1.7"/>
<ellipse cx="1047" cy="940.8" rx="3.6" ry="7.2" transform="rotate(17 1047 940.8)" stroke-width="2.8"/>
<path d="M1048,932.6 L1055,931.6 L1066.6,937 Q1069,943 1066.4,950.6 L1063,954.6 L1051,951.4 L1043.6,948.6 Q1049.6,942 1048,932.6 Z" fill="#111" stroke-width="2"/>
<path d="M1054,936 l9,3 M1053.6,940.4 l10.6,3.4 M1052.6,944.8 l10,3.2 M1052,949 l7,2.2" stroke="#fcfcfc" stroke-width="1.3"/>
</g>
<!-- 31_small.svg -->
<g id="p33_34">
<path d="M611.6,1033 Q610.6,1028 614.6,1025.6 L626,1021.6 L630.4,1022.4 L632.6,1028 L628.6,1033.6 L617,1038.6 Q612.6,1038.4 611.6,1033 Z" fill="#111" stroke="#111" stroke-width="2" stroke-linejoin="round"/>
<path d="M617.6,1029 l2.6,5.4 M625,1026.4 l1.2,3.6 M614.4,1031.6 l1.6,0" stroke="#fcfcfc" stroke-width="1.5" fill="none"/>
<path d="M630.3,1019.8 L664.6,1001.9 L669.4,1002.5 L666,1008.7 L631,1028" fill="#fcfcfc" stroke="#111" stroke-width="3.2" stroke-linejoin="round"/>
<path d="M666.4,1003.6 l-1.4,3.4" stroke="#111" stroke-width="1.6"/>
<path d="M676.6,994.6 L695.6,986 L699.6,992.4 L680,1002.4 Q675,1002.4 674.4,998.6 Q674.4,995.6 676.6,994.6 Z" fill="#111" stroke="#111" stroke-width="2" stroke-linejoin="round"/>
<path d="M678,997 q1.4,2.6 0,4 M683,994.6 l1.4,4.6 M687.6,992.6 l1.4,4.4 M692,990.6 l1.4,4.2" stroke="#fcfcfc" stroke-width="1.3" fill="none"/>
</g>
<g id="jetL">
<path d="M740.3,996 V1009" stroke="#111" stroke-width="2"/>
<ellipse cx="740.8" cy="1015.4" rx="5.6" ry="5" fill="#111"/>
<path d="M737.4,1019 L737.6,1032 L734.6,1035 L734.4,1050.6 L735.6,1052 L735.4,1058.6 Q740.6,1062.6 746,1058.6 L746,1052 L748,1050 L748,1036 L744.8,1032 L744.6,1019 Z" fill="#fcfcfc" stroke="#111" stroke-width="3" stroke-linejoin="round"/>
<path d="M738.6,1021.6 V1031 M743.4,1021 V1031" stroke="#111" stroke-width="2.6"/>
<path d="M741,1023 l0,2 M741,1027.6 l0,2" stroke="#111" stroke-width="1.6"/>
<path d="M735,1037 Q741,1041 748,1037 M735,1041.6 Q741,1045.6 748,1041.6 M735,1046 Q741,1050 748,1046 M735.6,1050.6 Q741,1054 746.6,1050.6" fill="none" stroke="#111" stroke-width="2.6"/>
<path d="M738,1034 V1050 M744,1034 V1050" stroke="#111" stroke-width="1.8"/>
</g>
<g id="p54">
<path d="M774.4,1006 Q774.4,999.4 780.6,998.8 Q786.8,999.4 787,1006 L787,1013 L785.4,1014.6 L785.2,1020 Q780.4,1022.4 776,1020 L775.8,1014.6 L774.2,1013 Z" fill="#fcfcfc" stroke="#111" stroke-width="3" stroke-linejoin="round"/>
<circle cx="780.6" cy="1003.4" r="2" fill="none" stroke="#111" stroke-width="1.8"/>
<path d="M774.6,1008 Q780.6,1012.6 786.8,1008 L786.8,1012.6 Q780.6,1016.6 774.6,1012.6 Z" fill="#111"/>
<path d="M777.6,1017.4 h6.4" stroke="#111" stroke-width="1.6"/>
</g>
<g id="p55">
<path d="M775.8,1025.4 Q780.6,1021.6 785.4,1025.4 L787.6,1049 L792.4,1073.8 Q792.4,1078 789.6,1079.8 Q781,1084.4 772.4,1079.6 Q769.8,1077.6 770.4,1073.8 L775,1049 Z" fill="#fcfcfc" stroke="#111" stroke-width="3.2" stroke-linejoin="round"/>
<path d="M774.6,1050 L788.2,1050 L791.4,1068 Q781,1062.6 771.4,1068.6 Z" fill="#111"/>
<path d="M777.6,1053.6 q3.4,-2.4 7,0 M776.6,1058.4 q4.4,-2.6 9,0 M776,1063 q5,-2.6 10.6,0" stroke="#fcfcfc" stroke-width="1.4" fill="none"/>
<path d="M771.6,1071.6 Q781,1079.6 791.6,1071.6" fill="none" stroke="#111" stroke-width="2.6"/>
<path d="M777.4,1030 v3 M777.4,1036 v2.6 M777.6,1041 v2.6 M778,1046 v2" stroke="#111" stroke-width="2.4"/>
<path d="M781.6,1028 v2.4" stroke="#111" stroke-width="2"/>
</g>
<g id="p7">
<path d="M806,1078.4 L812,1087 L813.4,1094 L811.6,1103.6 L805.6,1108.8 L800.6,1103 L798.2,1092 L799.6,1086 Z" fill="#111" stroke="#111" stroke-width="2" stroke-linejoin="round"/>
<path d="M806,1081.6 L809,1086.4 L803,1086.6 Z" fill="#fcfcfc"/>
<path d="M803,1091 Q806,1089.4 808.6,1091 L808.6,1099 M803.6,1094 v6" stroke="#fcfcfc" stroke-width="1.3" fill="none"/>
</g>
<g id="jetS">
<path d="M775.4,1101 Q775.4,1092.6 781.4,1091.6 Q787.4,1092.6 787.6,1101 L790,1105.6 L790,1113.6 L786.4,1117.6 L785.6,1119 L778,1119.4 L776.6,1117.6 L773,1113.6 L773,1105.6 Z" fill="#111" stroke="#111" stroke-width="2" stroke-linejoin="round"/>
<rect x="778.6" y="1111.4" width="6.6" height="6.4" fill="#fcfcfc"/>
<path d="M778.6,1096.6 q3,-2.4 6,0 M777.6,1100.6 q4,3 8,0 M776.4,1105 q5,4 10,0" stroke="#fcfcfc" stroke-width="1.4" fill="none"/>
</g>
<g id="clip36">
<path d="M801.4,1120 Q802.6,1116.8 806.4,1116.6 Q811.6,1117 812.2,1122.6 Q811.6,1128.4 806,1128.8 Q801.6,1128.4 800.4,1125" fill="none" stroke="#111" stroke-width="3" stroke-linecap="round"/>
<path d="M801.4,1120 l3.4,1.2 M800.4,1125 l3.4,-1" stroke="#111" stroke-width="2.4" stroke-linecap="round"/>
</g>

<!-- 40_floats.svg -->
<g id="floats" class="s" stroke-width="2.81">
<!-- right float -->
<path d="M766.8,1172 L766.8,1156.3 Q767,1152 769,1150.3 L783,1141 Q786.3,1139.2 789,1140.6 L815.5,1154.8 Q820.6,1158.6 821.5,1163.8 L823,1191.5" stroke-width="3.02"/>
<path d="M815.5,1154.8 Q810.6,1160 808.8,1165.3 Q805.6,1169 805,1172 L804.3,1196" stroke-width="2.81"/>
<path d="M767.5,1172 L778.8,1184 L801.3,1197.5" stroke-width="2.81"/>
<path d="M784,1146.5 L808.8,1160" stroke-width="2.59"/>
<path d="M777.3,1149.5 L805,1163.8 M774.3,1154.8 L802.8,1167.5" stroke-width="3.46"/>
<path d="M772,1158.5 L799.8,1170.5" stroke-width="2.81"/>
<!-- left float -->
<path d="M724,1178 Q724.6,1175 727,1174.3 L742,1167 Q745,1165.6 748,1167.4 L777.3,1184 L778,1209.5" stroke-width="3.02"/>
<path d="M724,1178 L724.8,1193.8 Q726,1200 730,1205 L758,1223.6 Q762,1225.4 766,1223.8" stroke-width="3.02"/>
<path d="M727,1174.3 L763,1190 L777.3,1184" stroke-width="2.59"/>
<path d="M742.8,1170.9 L765.3,1184" stroke-width="2.81"/>
<path d="M763,1197.5 V1220.8" stroke-width="2.81" stroke-dasharray="9 2.4"/>
<ellipse cx="760.6" cy="1192.4" rx="3" ry="4.4" transform="rotate(-20 760.6 1192.4)" fill="#111" stroke-width="2.16"/>
<path d="M762.6,1190.6 l1.2,3" stroke="#fcfcfc" stroke-width="1.30"/>
<!-- hinge bracket -->
<path d="M766.8,1221.5 L815.5,1193.8 L818.5,1195.3 L822.3,1211 Q821,1215 817,1216.6 L805,1226 L799.6,1222.6" stroke-width="3.46"/>
<path d="M768.6,1224.4 L776,1224 L810,1198.6" stroke-width="2.59"/>
<path d="M776,1224 L783.6,1219.6 L793.6,1220.6 L797,1214 L803,1209.6 L800,1204.6 L806,1199.6" stroke-width="2.59"/>
<ellipse cx="787" cy="1216.2" rx="3.6" ry="2.6" fill="#111" stroke-width="1.73"/>
<ellipse cx="809.6" cy="1202.8" rx="3.6" ry="2.6" fill="#111" stroke-width="1.73"/>
<path d="M797,1214 L806,1219.6 M801,1208.6 L812,1214.6 L814.6,1210 L805,1204.6" stroke-width="2.81"/>
<path d="M799.6,1215.6 L803,1223 L807.6,1220" fill="#111" stroke-width="2.59"/>
<path d="M786.3,1223.8 L786.8,1229.6 L792.6,1229.8 L793.6,1224" stroke-width="3.24"/>
</g>

<!-- 41_bowl.svg -->
<g id="gasket">
<path d="M784.4,1240.9 Q789,1241.4 793.8,1244.2 L831.3,1264.8 Q834.4,1266.6 834,1269.5 L830.3,1276 L833.1,1284.5 Q832.6,1287.6 829.4,1289.2 L798.4,1304.2 Q795,1305.6 791.9,1305.1 L784.4,1301.4 Q781,1300.6 777.8,1301.4 L769.4,1304.2 L763.8,1307 Q760.6,1307.8 758.1,1307 L712.2,1284.5 Q709.6,1282.6 710.8,1280.8 Q712,1278.4 714,1277 L740.3,1262.9 L742.2,1258.3 Q744.6,1254.8 748.8,1254.5 L755.3,1255.4 L758.1,1252.6 L767.5,1247 L777.8,1241.4 Q781,1240.4 784.4,1240.9 Z" fill="none" stroke="#111" stroke-width="5.2" stroke-linejoin="round" stroke-linecap="round"/><path d="M784.4,1240.9 Q789,1241.4 793.8,1244.2 L831.3,1264.8 Q834.4,1266.6 834,1269.5 L830.3,1276 L833.1,1284.5 Q832.6,1287.6 829.4,1289.2 L798.4,1304.2 Q795,1305.6 791.9,1305.1 L784.4,1301.4 Q781,1300.6 777.8,1301.4 L769.4,1304.2 L763.8,1307 Q760.6,1307.8 758.1,1307 L712.2,1284.5 Q709.6,1282.6 710.8,1280.8 Q712,1278.4 714,1277 L740.3,1262.9 L742.2,1258.3 Q744.6,1254.8 748.8,1254.5 L755.3,1255.4 L758.1,1252.6 L767.5,1247 L777.8,1241.4 Q781,1240.4 784.4,1240.9 Z" fill="none" stroke="#d8d8d8" stroke-width="0.8" stroke-linejoin="round" stroke-dasharray="3 3.5"/>
<path d="M740.3,1262.9 Q743,1266.4 746.9,1266.7 L755.3,1265.8 L759,1260.1" fill="none" stroke="#111" stroke-width="2.6"/>
<ellipse cx="749.2" cy="1259.9" rx="4.6" ry="3.8" fill="#111"/>
<path d="M760.9,1301.4 Q760.6,1297.6 761.9,1295.8 Q765,1292.6 770.3,1292 Q774,1291.8 776.9,1292.9 L784.4,1296.7 L793.8,1298" fill="none" stroke="#111" stroke-width="2.4" stroke-linecap="round"/>
<path d="M764.6,1300 Q765,1296.6 768,1295.6 M769,1299.4 q1.6,-3 4.6,-3 M774,1298.6 l2.6,-2.4" fill="none" stroke="#111" stroke-width="2"/>
</g>
<g id="bowl" class="s" stroke-width="2.4">
<path d="M701.7,1337.4 L711.3,1332.1 L741,1318.3 L749.5,1320.4" fill="none" stroke="#111" stroke-width="5.6" stroke-linejoin="round" stroke-linecap="round"/><path d="M701.7,1337.4 L711.3,1332.1 L741,1318.3 L749.5,1320.4" fill="none" stroke="#d8d8d8" stroke-width="0.8" stroke-linejoin="round" stroke-dasharray="3 3.5"/>
<path d="M804.8,1306.6 L840.9,1325.8 Q846.6,1330 847.3,1335.3 Q847.6,1340 846.2,1342.8 L806.9,1364 Q801,1364.6 796.3,1361.9 L785.6,1356.6 Q780,1354.6 775,1355.5 Q769,1357.4 764.4,1360.8 L758,1368.3 L709.1,1345.9 L701.7,1337.4" fill="none" stroke="#111" stroke-width="5.8" stroke-linejoin="round" stroke-linecap="round"/><path d="M804.8,1306.6 L840.9,1325.8 Q846.6,1330 847.3,1335.3 Q847.6,1340 846.2,1342.8 L806.9,1364 Q801,1364.6 796.3,1361.9 L785.6,1356.6 Q780,1354.6 775,1355.5 Q769,1357.4 764.4,1360.8 L758,1368.3 L709.1,1345.9 L701.7,1337.4" fill="none" stroke="#d8d8d8" stroke-width="0.8" stroke-linejoin="round" stroke-dasharray="3 3.5"/>
<ellipse cx="701.6" cy="1337.4" rx="6.4" ry="5.2" fill="#fcfcfc" stroke="#111" stroke-width="3"/>
<path d="M698,1339 q3,-3.6 7,-1.6" stroke-width="1.8"/>
<ellipse cx="749.2" cy="1320.6" rx="5" ry="3.8" fill="#fcfcfc" stroke="#111" stroke-width="2.8"/>
<ellipse cx="841.6" cy="1336.4" rx="4.4" ry="3" fill="#fcfcfc" stroke="#111" stroke-width="2.4"/>
<path d="M714.4,1339.6 L753.8,1361.9 M806.9,1355.5 L828.1,1342.8 Q830.6,1338 831.3,1332.1 L836,1328" stroke-width="2.8"/>
<path d="M740,1326.8 V1359.8 M758,1321.5 V1340.6" stroke-width="2.2"/>
<path d="M749.5,1359.8 L772.9,1333.2 Q776,1331.6 778.2,1336.4 L758,1364" stroke-width="2.8"/>
<path d="M756.6,1343 l3,-3.6" stroke-width="2"/>
<ellipse cx="785.6" cy="1346.2" rx="5.2" ry="3.6" stroke-width="2.6"/>
<path d="M780.4,1346.6 v4 q5,4.4 10.4,0 v-4" stroke-width="2.4"/>
<path d="M785.6,1308.8 Q785.6,1319 787.8,1327.9 Q790.6,1338 796.3,1347 Q801,1354 806.9,1359.8" stroke-width="2.6"/>
<path d="M764.4,1360.8 Q767,1357 770.8,1355.5 Q776.6,1353.4 782.4,1354.4 Q788,1356.4 792,1359.8" stroke-width="2.6"/>
<path d="M767.6,1362 q2,-3 5,-3.6 M773.6,1361 q2.4,-2.4 5.4,-2.4 M780,1360.6 l4,-0.6" stroke-width="2"/>
<path d="M703.8,1345.9 Q704.6,1358 708,1370.4 Q710.6,1382 714.4,1391.6 Q719,1399 725,1404.4 Q732,1409.6 740,1411.8 Q745,1412.6 749.5,1411.8 Q754.6,1410 758,1406.5 Q761,1402.6 763.3,1398 L768.6,1402.3 L775,1416 Q778,1420 781.4,1420.3 Q785.6,1420 787.8,1417.1 L788.8,1392" stroke-width="2.8"/>
<path d="M760.1,1378.9 V1402.3 M768.6,1375.7 V1398" stroke-width="2.6"/>
<path d="M775,1372.5 V1391.6 L789.9,1393.8 V1370.4" stroke-width="3"/>
<path d="M776,1380 H789" stroke-width="2.2"/>
<path d="M792,1372.5 V1392.7 L801.6,1392.7 L828.1,1376.8 Q831,1368 831.3,1355.5" stroke-width="2.8"/>
<path d="M799.4,1372.5 V1387.4" stroke-width="2.6"/>
<circle cx="714.4" cy="1397" r="3.8" stroke-width="2.6"/>
</g>
<g id="screws37">
<g><rect x="698.9" y="1397.5" width="7" height="20.0" rx="2" fill="#fcfcfc" stroke="#111" stroke-width="2.6"/><path d="M698.9,1400.7 h7" stroke="#111" stroke-width="1.8"/><path d="M698.9,1404.0 h7" stroke="#111" stroke-width="1.8"/><path d="M698.9,1407.3 h7" stroke="#111" stroke-width="1.8"/><path d="M698.9,1410.6 h7" stroke="#111" stroke-width="1.8"/><path d="M698.9,1413.9 h7" stroke="#111" stroke-width="1.8"/><path d="M696.0,1417.5 L708.8,1417.5 L709.2,1423.6 L705.4,1427.6 L699.4,1427.6 L695.6,1423.6 L696.0,1417.5 Z" fill="#111" stroke="#111" stroke-width="2" stroke-linejoin="round"/><path d="M698.9,1421.5 q3.4,-2.6 7,0 M700.4,1424.2 h4" stroke="#fcfcfc" stroke-width="1.3" fill="none"/></g>
<g><rect x="838.7" y="1358.0" width="7" height="21.0" rx="2" fill="#fcfcfc" stroke="#111" stroke-width="2.6"/><path d="M838.7,1361.2 h7" stroke="#111" stroke-width="1.8"/><path d="M838.7,1364.5 h7" stroke="#111" stroke-width="1.8"/><path d="M838.7,1367.8 h7" stroke="#111" stroke-width="1.8"/><path d="M838.7,1371.1 h7" stroke="#111" stroke-width="1.8"/><path d="M838.7,1374.4 h7" stroke="#111" stroke-width="1.8"/><path d="M835.8,1379.0 L848.6,1379.0 L849.0,1387.6 L845.2,1391.6 L839.2,1391.6 L835.4,1387.6 L835.8,1379.0 Z" fill="#111" stroke="#111" stroke-width="2" stroke-linejoin="round"/><path d="M838.7,1383.0 q3.4,-2.6 7,0 M840.2,1388.2 h4" stroke="#fcfcfc" stroke-width="1.3" fill="none"/></g>
</g>
<g id="oring6"><ellipse cx="940.1" cy="1384.4" rx="19.2" ry="11.8" fill="none" stroke="#111" stroke-width="2.8"/><ellipse cx="940.4" cy="1384.2" rx="15.4" ry="8.2" fill="none" stroke="#111" stroke-width="2.4"/></g>
<g id="plug5" class="s" stroke-width="2.6">
<path d="M915,1440.7 L928.9,1457.1 L949.9,1457.1 L961.7,1442" stroke-width="3.2"/>
<path d="M931.5,1453.6 H947.9" stroke-width="2"/>
<ellipse cx="938.4" cy="1436" rx="23.2" ry="9.6" fill="#fcfcfc" stroke-width="3.2"/>
<path d="M916,1439.6 Q926,1449.6 940,1449.6 Q954,1449 961,1440.6" stroke-width="2.4"/>
<path d="M918.6,1435 Q926,1445.6 940,1445.6 Q953,1445 958.6,1436" stroke-width="2.4"/>
<path d="M924.6,1418 L922.4,1438 Q930,1443.6 940,1443.6 Q951,1443 957.6,1437 L955.4,1418 Z" fill="#fcfcfc" stroke-width="3"/>
<path d="M923.6,1428 Q932,1434.6 940,1434.4 Q950,1434 956.4,1428 M923,1432.6 Q932,1439 940,1438.8 Q950,1438.4 957,1432.4 M924,1424 Q932,1430 940,1430 Q950,1429.6 955.8,1424" stroke-width="2.6"/>
<path d="M929,1431.6 h4 M936,1432.6 h3 M942,1432.4 h4" stroke-width="1.6"/>
<ellipse cx="940" cy="1417" rx="15.2" ry="9" fill="#111" stroke-width="2"/>
<ellipse cx="940.8" cy="1416.8" rx="9.8" ry="6" fill="#fcfcfc" stroke="none"/>
</g>
<g id="labels" opacity="0.999">
<text x="683.0" y="149.0">5</text><text x="701.1" y="149.0">2</text>
<text x="910.0" y="144.5">5</text><text x="928.1" y="144.5">2</text>
<text x="794.3" y="273.5">3</text><path d="M812,0 H520 V1059 Q350,915 110,846 V1101 Q240,1137 385,1237.5 Q525,1338 573,1472 H812 Z" fill="#0c0c0c" transform="translate(812.33,273.50) scale(0.01587,-0.01587)"/>
<text x="844.9" y="436.5">3</text><text x="862.9" y="436.5">2</text>
<text x="841.8" y="528.0">3</text><text x="859.8" y="528.0">5</text>
<text x="842.0" y="609.0">5</text><path d="M812,0 H520 V1059 Q350,915 110,846 V1101 Q240,1137 385,1237.5 Q525,1338 573,1472 H812 Z" fill="#0c0c0c" transform="translate(860.08,609.00) scale(0.01587,-0.01587)"/>
<text x="889.5" y="647.0">2</text><text x="907.5" y="647.0">8</text>
<text x="898.9" y="706.0">2</text><text x="916.9" y="706.0">0</text>
<text x="954.3" y="706.0">2</text><path d="M812,0 H520 V1059 Q350,915 110,846 V1101 Q240,1137 385,1237.5 Q525,1338 573,1472 H812 Z" fill="#0c0c0c" transform="translate(972.35,706.00) scale(0.01587,-0.01587)"/>
<text x="1009.4" y="706.0">2</text><text x="1027.4" y="706.0">2</text>
<text x="1059.9" y="706.0">2</text><text x="1077.9" y="706.0">3</text>
<text x="899.5" y="756.0">2</text><text x="917.5" y="756.0">4</text>
<text x="952.5" y="756.0">2</text><text x="970.5" y="756.0">5</text>
<text x="1007.3" y="756.0">2</text><text x="1025.3" y="756.0">6</text>
<text x="1058.4" y="756.0">2</text><text x="1076.4" y="756.0">7</text>
<text x="901.9" y="828.4">2</text><text x="919.9" y="828.4">9</text>
<text x="952.6" y="828.4">3</text><text x="970.6" y="828.4">0</text>
<path d="M812,0 H520 V1059 Q350,915 110,846 V1101 Q240,1137 385,1237.5 Q525,1338 573,1472 H812 Z" fill="#0c0c0c" transform="translate(549.25,744.50) scale(0.01587,-0.01587)"/>
<text x="928.8" y="982.0">5</text><text x="946.8" y="982.0">0</text>
<text x="970.8" y="999.5">5</text><text x="988.8" y="999.5">3</text>
<text x="1024.5" y="1022.8">4</text><text x="1042.6" y="1022.8">9</text>
<text x="643.3" y="938.0">3</text><text x="661.3" y="938.0">4</text>
<text x="579.5" y="976.5">3</text><text x="597.6" y="976.5">3</text>
<text x="853.3" y="1022.0">5</text><text x="871.3" y="1022.0">4</text>
<text x="866.8" y="1067.8">5</text><text x="884.8" y="1067.8">5</text>
<text x="888.9" y="1108.2">7</text>
<text x="889.5" y="1152.4">3</text><text x="907.6" y="1152.4">6</text>
<text x="887.6" y="1217.5">2</text>
<text x="890.5" y="1301.3">4</text>
<text x="872.3" y="1352.2">3</text><text x="890.3" y="1352.2">7</text>
<text x="606.8" y="1417.8">3</text><text x="624.8" y="1417.8">7</text>
<text x="1008.6" y="1394.1">6</text>
<text x="1012.9" y="1451.9">5</text>
<text x="716.5" y="1468.0">5</text><text x="734.6" y="1468.0">6</text>
<text x="493.5" y="1091.7">8</text>
<text x="544.7" y="1091.7">9</text>
<path d="M812,0 H520 V1059 Q350,915 110,846 V1101 Q240,1137 385,1237.5 Q525,1338 573,1472 H812 Z" fill="#0c0c0c" transform="translate(579.25,1091.70) scale(0.01587,-0.01587)"/><text x="597.3" y="1091.7">0</text>
<path d="M812,0 H520 V1059 Q350,915 110,846 V1101 Q240,1137 385,1237.5 Q525,1338 573,1472 H812 Z" fill="#0c0c0c" transform="translate(626.85,1091.70) scale(0.01587,-0.01587)"/><path d="M812,0 H520 V1059 Q350,915 110,846 V1101 Q240,1137 385,1237.5 Q525,1338 573,1472 H812 Z" fill="#0c0c0c" transform="translate(644.93,1091.70) scale(0.01587,-0.01587)"/>
<path d="M812,0 H520 V1059 Q350,915 110,846 V1101 Q240,1137 385,1237.5 Q525,1338 573,1472 H812 Z" fill="#0c0c0c" transform="translate(486.25,1136.00) scale(0.01587,-0.01587)"/><text x="504.3" y="1136.0">3</text>
<path d="M812,0 H520 V1059 Q350,915 110,846 V1101 Q240,1137 385,1237.5 Q525,1338 573,1472 H812 Z" fill="#0c0c0c" transform="translate(533.55,1136.00) scale(0.01587,-0.01587)"/><text x="551.6" y="1136.0">4</text>
<path d="M812,0 H520 V1059 Q350,915 110,846 V1101 Q240,1137 385,1237.5 Q525,1338 573,1472 H812 Z" fill="#0c0c0c" transform="translate(581.55,1136.00) scale(0.01587,-0.01587)"/><text x="599.6" y="1136.0">5</text>
<path d="M812,0 H520 V1059 Q350,915 110,846 V1101 Q240,1137 385,1237.5 Q525,1338 573,1472 H812 Z" fill="#0c0c0c" transform="translate(627.75,1136.00) scale(0.01587,-0.01587)"/><text x="645.8" y="1136.0">2</text>
<path d="M812,0 H520 V1059 Q350,915 110,846 V1101 Q240,1137 385,1237.5 Q525,1338 573,1472 H812 Z" fill="#0c0c0c" transform="translate(488.55,1183.20) scale(0.01587,-0.01587)"/><text x="506.6" y="1183.2">6</text>
<path d="M812,0 H520 V1059 Q350,915 110,846 V1101 Q240,1137 385,1237.5 Q525,1338 573,1472 H812 Z" fill="#0c0c0c" transform="translate(530.75,1183.20) scale(0.01587,-0.01587)"/><text x="548.8" y="1183.2">7</text>
<path d="M812,0 H520 V1059 Q350,915 110,846 V1101 Q240,1137 385,1237.5 Q525,1338 573,1472 H812 Z" fill="#0c0c0c" transform="translate(577.95,1183.20) scale(0.01587,-0.01587)"/><text x="596.0" y="1183.2">8</text>
<path d="M812,0 H520 V1059 Q350,915 110,846 V1101 Q240,1137 385,1237.5 Q525,1338 573,1472 H812 Z" fill="#0c0c0c" transform="translate(628.65,1183.20) scale(0.01587,-0.01587)"/><text x="646.7" y="1183.2">9</text>
<text x="535.5" y="1229.4">3</text><text x="553.5" y="1229.4">8</text>
<text x="583.5" y="1229.4">3</text><text x="601.5" y="1229.4">9</text>
<text x="634.5" y="1229.4">4</text><text x="652.6" y="1229.4">0</text>
<text x="490.9" y="1273.9">4</text><path d="M812,0 H520 V1059 Q350,915 110,846 V1101 Q240,1137 385,1237.5 Q525,1338 573,1472 H812 Z" fill="#0c0c0c" transform="translate(508.98,1273.90) scale(0.01587,-0.01587)"/>
<text x="535.1" y="1273.9">4</text><text x="553.2" y="1273.9">2</text>
<text x="582.8" y="1273.9">4</text><text x="600.9" y="1273.9">3</text>
<text x="634.5" y="1273.9">4</text><text x="652.6" y="1273.9">4</text>
<text x="490.9" y="1318.3">4</text><text x="509.0" y="1318.3">5</text>
<text x="535.1" y="1318.3">4</text><text x="553.2" y="1318.3">6</text>
<text x="583.3" y="1318.3">4</text><text x="601.4" y="1318.3">7</text>
<text x="634.5" y="1318.3">4</text><text x="652.6" y="1318.3">8</text>
</g>
</svg>
</body></html>
